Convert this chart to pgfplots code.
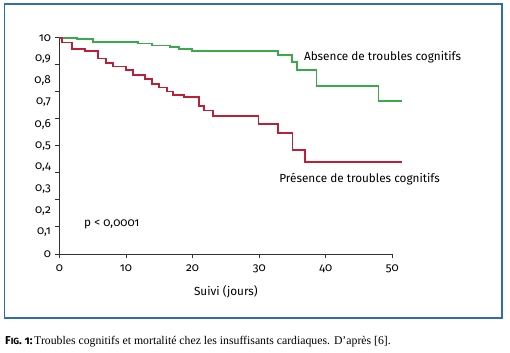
\documentclass[border=0pt]{standalone}
\usepackage{fontspec}
\setmainfont{Liberation Serif}
\newfontfamily\chartfont[Numbers=OldStyle]{Fira Sans}
\usepackage{pgfplots}
\pgfplotsset{compat=1.18}
\definecolor{kmgreen}{RGB}{60,170,75}
\definecolor{kmred}{RGB}{190,30,55}
\definecolor{framecol}{RGB}{45,110,175}
\definecolor{axcol}{RGB}{50,50,50}
\newcommand{\cf}{\chartfont\fontsize{11.8}{13}\selectfont}
\begin{document}
\begin{tikzpicture}[x=1bp,y=1bp]
\useasboundingbox (0,0) rectangle (510,352);
\draw[framecol, line width=1.5bp] (4.5,34) rectangle (502,348);
\node[anchor=base west, inner sep=0] at (5,8) {{\chartfont\fontsize{11.5}{13}\selectfont\bfseries F{\fontsize{9}{10}\selectfont IG}. 1:}\,{\fontsize{11.8}{13}\selectfont Troubles cognitifs et mortalité chez les insuffisants cardiaques. D'après [6].}};
\begin{axis}[
  at={(59.4bp,98bp)}, anchor=south west,
  scale only axis, width=333bp, height=216.3bp,
  xmin=0, xmax=50, ymin=0, ymax=1,
  axis lines*=left, clip=false,
  axis line style={axcol, line width=1bp},
  tick style={axcol, line width=1bp},
  tick align=outside, major tick length=4bp,
  xtick={0,10,20,30,40,50},
  xticklabels={0,10,20,30,40,50},
  ytick={0,0.125,0.25,0.375,0.5,0.625,0.75,0.875,1},
  yticklabels={},
  extra y ticks={0,0.1,0.2,0.3,0.4,0.5,0.6,0.7,0.8,0.9,1},
  extra y tick labels={0,{0,1},{0,2},{0,3},{0,4},{0,5},{0,6},{0,7},{0,8},{0,9},10},
  extra y tick style={major tick length=0bp},
  ticklabel style={font=\cf, text=black},
  yticklabel style={xshift=-5bp},
  xticklabel style={yshift=-3bp},
  xlabel={Suivi (jours)},
  xlabel style={font=\cf, yshift=-6bp},
]
\addplot[const plot, kmgreen, line width=1.8bp, line join=miter] coordinates {
(0,1.0)(2.64,0.994)(5.0,0.981)(11.76,0.973)(13.86,0.964)(16.6,0.958)(17.95,0.946)(19.95,0.937)(32.8,0.921)(34.9,0.887)(35.7,0.852)(38.6,0.775)(47.9,0.708)(51.4,0.708)};
\addplot[const plot, kmred, line width=1.8bp, line join=miter] coordinates {
(0,1.0)(0.4,0.978)(1.85,0.949)(3.84,0.940)(5.84,0.904)(7.0,0.883)(8.1,0.867)(10.0,0.849)(11.0,0.827)(12.85,0.809)(13.86,0.787)(15.0,0.770)(16.1,0.751)(17.1,0.736)(18.75,0.724)(20.96,0.685)(21.7,0.663)(23.1,0.639)(29.9,0.602)(32.8,0.559)(35.0,0.481)(36.9,0.427)(51.4,0.427)};
\node[anchor=west, inner sep=0, font=\cf] at (axis cs:36.7,0.911) {Absence de troubles cognitifs};
\node[anchor=west, inner sep=0, font=\cf] at (axis cs:33.0,0.347) {Présence de troubles cognitifs};
\node[anchor=west, inner sep=0, font=\cf] at (axis cs:3.7,0.139) {p < 0,0001};
\end{axis}
\end{tikzpicture}
\end{document}
